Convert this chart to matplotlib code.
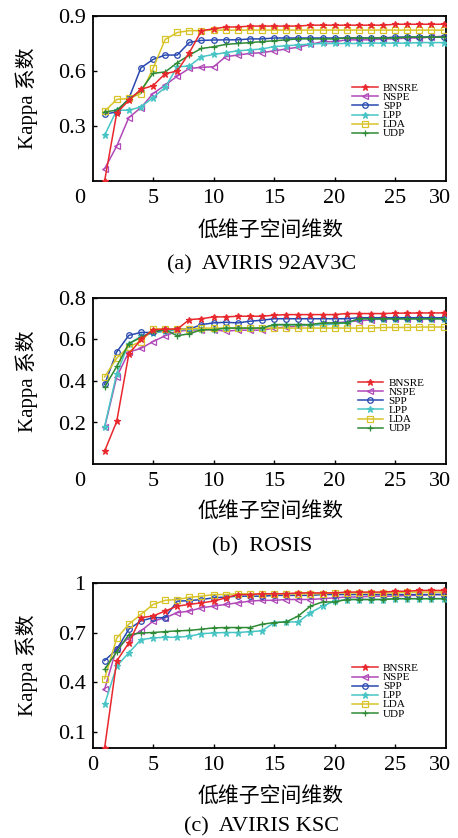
import matplotlib
matplotlib.use("Agg")
import matplotlib.pyplot as plt
import matplotlib.transforms as mtransforms

plt.rcParams["font.family"] = ["Liberation Serif", "Noto Sans CJK SC"]

# ====== data ======
dims = list(range(1, 30))
methods = ["BNSRE", "NSPE", "SPP", "LPP", "LDA", "UDP"]

# (a) AVIRIS 92AV3C
a_bnsre = [0.00, 0.37, 0.44, 0.50, 0.52, 0.585, 0.60, 0.70, 0.82, 0.83,
           0.84, 0.84, 0.845, 0.845, 0.845, 0.845, 0.845, 0.85, 0.85, 0.85,
           0.85, 0.85, 0.85, 0.85, 0.855, 0.855, 0.855, 0.855, 0.855]
a_nspe = [0.067, 0.19, 0.346, 0.40, 0.477, 0.523, 0.572, 0.614, 0.62, 0.623,
          0.678, 0.687, 0.696, 0.70, 0.71, 0.72, 0.73, 0.745, 0.76, 0.76,
          0.77, 0.77, 0.77, 0.775, 0.775, 0.78, 0.78, 0.785, 0.79]
a_spp = [0.364, 0.377, 0.45, 0.617, 0.663, 0.687, 0.687, 0.756, 0.767, 0.769,
         0.77, 0.77, 0.775, 0.775, 0.78, 0.78, 0.78, 0.78, 0.78, 0.78,
         0.78, 0.78, 0.78, 0.78, 0.785, 0.785, 0.785, 0.785, 0.785]
a_lpp = [0.25, 0.386, 0.386, 0.404, 0.455, 0.51, 0.623, 0.627, 0.678, 0.69,
         0.70, 0.71, 0.715, 0.72, 0.733, 0.738, 0.742, 0.747, 0.75, 0.75,
         0.75, 0.75, 0.752, 0.752, 0.752, 0.752, 0.755, 0.755, 0.755]
a_lda = [0.38, 0.445, 0.45, 0.477, 0.614, 0.772, 0.81, 0.82, 0.82, 0.823,
         0.823, 0.823, 0.823, 0.823, 0.823, 0.823, 0.823, 0.823, 0.823, 0.823,
         0.823, 0.823, 0.823, 0.823, 0.823, 0.823, 0.823, 0.823, 0.823]
a_udp = [0.377, 0.386, 0.445, 0.495, 0.587, 0.595, 0.645, 0.687, 0.723, 0.732,
         0.745, 0.75, 0.755, 0.76, 0.765, 0.77, 0.775, 0.775, 0.775, 0.775,
         0.78, 0.78, 0.78, 0.78, 0.78, 0.785, 0.785, 0.785, 0.785]

# (b) ROSIS
b_bnsre = [0.062, 0.205, 0.53, 0.60, 0.647, 0.65, 0.65, 0.696, 0.70, 0.709,
           0.709, 0.712, 0.712, 0.712, 0.717, 0.72, 0.72, 0.72, 0.72, 0.72,
           0.725, 0.725, 0.725, 0.725, 0.727, 0.727, 0.728, 0.728, 0.728]
b_nspe = [0.176, 0.42, 0.54, 0.557, 0.59, 0.618, 0.64, 0.645, 0.647, 0.647,
          0.64, 0.645, 0.645, 0.645, 0.655, 0.66, 0.665, 0.67, 0.675, 0.68,
          0.685, 0.69, 0.695, 0.70, 0.70, 0.70, 0.70, 0.70, 0.70]
b_spp = [0.384, 0.54, 0.62, 0.634, 0.634, 0.647, 0.65, 0.65, 0.672, 0.68,
         0.683, 0.68, 0.688, 0.693, 0.70, 0.70, 0.70, 0.70, 0.70, 0.70,
         0.70, 0.705, 0.705, 0.705, 0.705, 0.705, 0.705, 0.705, 0.705]
b_lpp = [0.18, 0.436, 0.58, 0.615, 0.63, 0.64, 0.645, 0.65, 0.65, 0.65,
         0.655, 0.655, 0.655, 0.655, 0.67, 0.67, 0.67, 0.67, 0.67, 0.675,
         0.68, 0.70, 0.70, 0.70, 0.70, 0.70, 0.70, 0.70, 0.70]
b_lda = [0.42, 0.51, 0.566, 0.59, 0.652, 0.65, 0.65, 0.65, 0.655, 0.655,
         0.655, 0.655, 0.655, 0.655, 0.655, 0.655, 0.655, 0.655, 0.655, 0.655,
         0.655, 0.655, 0.655, 0.658, 0.658, 0.658, 0.66, 0.66, 0.66]
b_udp = [0.37, 0.47, 0.58, 0.61, 0.64, 0.647, 0.618, 0.628, 0.647, 0.647,
         0.655, 0.655, 0.655, 0.655, 0.672, 0.672, 0.672, 0.672, 0.68, 0.68,
         0.68, 0.70, 0.70, 0.70, 0.70, 0.70, 0.70, 0.70, 0.70]

# (c) AVIRIS KSC
c_bnsre = [0.00, 0.527, 0.637, 0.79, 0.80, 0.83, 0.86, 0.87, 0.88, 0.89,
           0.91, 0.93, 0.93, 0.935, 0.935, 0.935, 0.94, 0.94, 0.94, 0.94,
           0.945, 0.945, 0.945, 0.945, 0.95, 0.95, 0.955, 0.955, 0.955]
c_nspe = [0.356, 0.607, 0.667, 0.71, 0.768, 0.79, 0.82, 0.83, 0.85, 0.86,
          0.87, 0.88, 0.89, 0.895, 0.895, 0.90, 0.90, 0.90, 0.905, 0.91,
          0.915, 0.915, 0.92, 0.92, 0.92, 0.925, 0.925, 0.93, 0.93]
c_spp = [0.53, 0.597, 0.72, 0.77, 0.79, 0.79, 0.89, 0.893, 0.90, 0.91,
         0.915, 0.92, 0.92, 0.92, 0.925, 0.925, 0.925, 0.925, 0.93, 0.93,
         0.93, 0.93, 0.93, 0.93, 0.93, 0.93, 0.93, 0.93, 0.93]
c_lpp = [0.265, 0.496, 0.577, 0.657, 0.667, 0.671, 0.671, 0.677, 0.693, 0.697,
         0.70, 0.70, 0.705, 0.71, 0.76, 0.764, 0.764, 0.82, 0.86, 0.89,
         0.90, 0.90, 0.90, 0.90, 0.905, 0.905, 0.905, 0.905, 0.905]
c_lda = [0.42, 0.665, 0.75, 0.81, 0.87, 0.895, 0.90, 0.913, 0.92, 0.93,
         0.93, 0.935, 0.933, 0.933, 0.933, 0.935, 0.935, 0.935, 0.935, 0.94,
         0.94, 0.94, 0.94, 0.94, 0.94, 0.945, 0.945, 0.945, 0.945]
c_udp = [0.476, 0.583, 0.687, 0.697, 0.70, 0.705, 0.71, 0.713, 0.72, 0.728,
         0.73, 0.73, 0.73, 0.75, 0.76, 0.764, 0.80, 0.86, 0.885, 0.885,
         0.90, 0.90, 0.90, 0.90, 0.905, 0.905, 0.905, 0.905, 0.905]

panels = [
    ("(a)  AVIRIS 92AV3C", [a_bnsre, a_nspe, a_spp, a_lpp, a_lda, a_udp],
     [0.3, 0.6, 0.9], ["0.3", "0.6", "0.9"], 0.9),
    ("(b)  ROSIS", [b_bnsre, b_nspe, b_spp, b_lpp, b_lda, b_udp],
     [0.2, 0.4, 0.6, 0.8], ["0.2", "0.4", "0.6", "0.8"], 0.8),
    ("(c)  AVIRIS KSC", [c_bnsre, c_nspe, c_spp, c_lpp, c_lda, c_udp],
     [0.1, 0.4, 0.7, 1.0], ["0.1", "0.4", "0.7", "1"], 1.0),
]

# ====== styles ======
styles = {
    "BNSRE": dict(color="#e8282c", marker="*", ms=5, mfc="#e8282c"),
    "NSPE": dict(color="#b048b8", marker="<", ms=4.5, mfc="none"),
    "SPP": dict(color="#2848b0", marker="o", ms=4, mfc="none"),
    "LPP": dict(color="#48c4c4", marker="*", ms=4.5, mfc="#48c4c4"),
    "LDA": dict(color="#d8c428", marker="s", ms=4.5, mfc="none"),
    "UDP": dict(color="#2e8a34", marker="+", ms=5, mfc="#2e8a34"),
}
zorders = {"BNSRE": 8, "NSPE": 3, "SPP": 5, "LPP": 4, "LDA": 6, "UDP": 7}

W, H = 458, 838
fig = plt.figure(figsize=(W / 100, H / 100), dpi=100)

# axes boxes in pixels (top, bottom) and text rows
boxes = [(16, 181), (298, 464), (583, 748)]
xlabel_y = [231, 512, 797]
caption_y = [265, 547, 827]
legend_pos = [(0.734, 0.59), (0.75, 0.515), (0.734, 0.51)]
zero_shift = [-13, -13, 0]

for i, (caption, series, yt, ytl, ytop) in enumerate(panels):
    top, bot = boxes[i]
    ax = fig.add_axes([92.5 / W, 1 - bot / H, (446 - 92.5) / W, (bot - top) / H])
    for name, vals in zip(methods, series):
        st = styles[name]
        ax.plot(dims, vals, color=st["color"], marker=st["marker"], ms=st["ms"],
                mfc=st["mfc"], mec=st["color"], mew=0.9, lw=1.1,
                label=name, zorder=zorders[name], clip_on=True)

    ax.set_xlim(0, 29.2)
    ax.set_ylim(0, ytop)
    ax.set_yticks(yt)
    ax.set_yticklabels(ytl)
    ax.set_xticks([5, 10, 15, 20, 25])
    ax.tick_params(direction="in", length=3, width=1, labelsize=16, pad=6)
    ax.tick_params(axis="y", pad=5)
    for sp in ax.spines.values():
        sp.set_linewidth(1.3)

    # 0 and 30 labels at the ends of the x axis
    trans = mtransforms.offset_copy(ax.get_xaxis_transform(), fig=fig, y=-6, units="points")
    ax.text(0, 0, "0", transform=mtransforms.offset_copy(trans, fig=fig, x=zero_shift[i], units="dots"),
            ha="center", va="top", fontsize=16)
    ax.text(28.7, 0, "30", transform=trans, ha="center", va="top", fontsize=16)

    ax.set_ylabel("Kappa 系数", fontsize=15, va="center")
    ax.yaxis.set_label_coords(-0.185, 0.5)
    ax.set_xlabel("低维子空间维数", fontsize=15, va="center")
    ax.xaxis.set_label_coords(0.505, -(xlabel_y[i] - bot) / (bot - top))

    ax.legend(loc="upper left", bbox_to_anchor=legend_pos[i], frameon=False,
              fontsize=8, borderpad=0, borderaxespad=0, labelspacing=0.0,
              handlelength=2.3, handletextpad=0.5, handleheight=0.5)

    fig.text(262 / W, 1 - caption_y[i] / H, caption, ha="center", va="center", fontsize=16)

fig.savefig("out.png", dpi=100)
